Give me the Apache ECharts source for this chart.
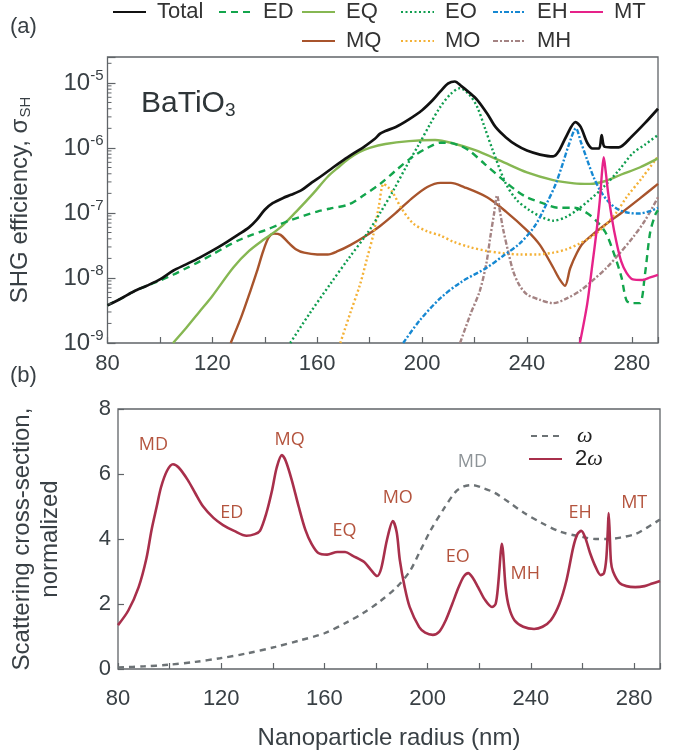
<!DOCTYPE html>
<html>
<head>
<meta charset="utf-8">
<script src="https://cdn.jsdelivr.net/npm/echarts@6/dist/echarts.min.js"></script>
<style>html,body{margin:0;padding:0;background:#fff}#c{width:689px;height:753px}</style>
</head>
<body>
<div id="c"></div>
<script>
// ---------- DATA (panel a: SHG efficiency, [radius nm, sigma_SH]) ----------
const total = [[80,3.8e-9],[85,4.8e-9],[90,6.2e-9],[95,7.6e-9],[100,9.5e-9],[105,1.29e-8],[110,1.62e-8],[115,2.04e-8],[120,2.63e-8],[125,3.47e-8],[130,4.68e-8],[134,6.0e-8],[137,7.9e-8],[140,1.12e-7],[143,1.41e-7],[147,1.7e-7],[150,1.9e-7],[154,2.24e-7],[158,2.95e-7],[162,3.8e-7],[166,5.0e-7],[170,6.5e-7],[174,8.3e-7],[178,1.05e-6],[182,1.38e-6],[184,1.66e-6],[186,1.82e-6],[190,2.1e-6],[195,2.75e-6],[200,3.8e-6],[204,5.4e-6],[207,7.4e-6],[210,9.8e-6],[212.5,1.05e-5],[215,8.9e-6],[218,7.1e-6],[221,5.5e-6],[225,3.3e-6],[228,2.1e-6],[232,1.45e-6],[236,1.1e-6],[240,9.1e-7],[245,7.9e-7],[250,7.4e-7],[252,8.7e-7],[255,1.5e-6],[258.5,2.5e-6],[260.5,2.1e-6],[263,1.2e-6],[265,9.8e-7],[267.5,9.8e-7],[268.5,1.58e-6],[269.5,1.05e-6],[272,1.02e-6],[275,1.02e-6],[280,1.5e-6],[285,2.4e-6],[290,4.0e-6]];
const ED = [[80,3.8e-9],[85,4.8e-9],[90,6.2e-9],[95,7.6e-9],[100,9.1e-9],[105,1.12e-8],[110,1.41e-8],[115,1.78e-8],[120,2.3e-8],[125,3.0e-8],[130,3.8e-8],[135,4.6e-8],[140,5.4e-8],[145,6.5e-8],[150,7.8e-8],[155,9.1e-8],[160,1.05e-7],[165,1.17e-7],[172,1.35e-7],[178,1.9e-7],[184,2.8e-7],[190,4.5e-7],[196,7.1e-7],[202,1.0e-6],[207,1.2e-6],[210,1.2e-6],[214,1.1e-6],[218,9.1e-7],[224,5.6e-7],[231,3.2e-7],[236,2.2e-7],[240,1.74e-7],[246,1.41e-7],[252,1.2e-7],[258,1.2e-7],[262,1.05e-7],[266,7.9e-8],[270,5.0e-8],[273,2.5e-8],[276,1.05e-8],[278,4.5e-9],[280,4.1e-9],[283,4.1e-9],[285,1.12e-8],[287,5.0e-8],[289,9.5e-8],[290,1.1e-7]];
const EQ = [[105,1.0e-9],[110,1.7e-9],[115,3.0e-9],[120,5.3e-9],[128,1.45e-8],[134,2.6e-8],[140,4.0e-8],[146,6.0e-8],[152,1.05e-7],[158.5,2.0e-7],[164,3.6e-7],[168,5.0e-7],[172,6.8e-7],[176,8.6e-7],[180,1.0e-6],[186,1.15e-6],[195,1.27e-6],[205,1.32e-6],[212,1.17e-6],[220,9.3e-7],[230,6.3e-7],[240,4.2e-7],[250,3.2e-7],[258,2.85e-7],[264,2.8e-7],[270,3.1e-7],[276,3.9e-7],[283,5.0e-7],[290,6.9e-7]];
const EO = [[149.7,1.0e-9],[157,2.8e-9],[165,8.1e-9],[172,2.0e-8],[179,4.8e-8],[184,1.0e-7],[189,2.2e-7],[194,5.2e-7],[199,1.17e-6],[203,2.3e-6],[207,4.3e-6],[211,6.8e-6],[214.5,8.3e-6],[218,6.6e-6],[221,4.3e-6],[224,2.0e-6],[227,9.1e-7],[232,2.8e-7],[236,1.6e-7],[241,1.1e-7],[246,8.5e-8],[250,7.6e-8],[255,8.7e-8],[259,1.1e-7],[264,1.6e-7],[269,2.45e-7],[275,4.5e-7],[280.4,8.3e-7],[285,1.12e-6],[290,1.58e-6]];
const EH = [[192.8,1.0e-9],[199,2.2e-9],[207,4.9e-9],[215,8.7e-9],[224.8,1.45e-8],[231,2.2e-8],[237.3,3.4e-8],[243,6.3e-8],[247.6,1.41e-7],[251,2.8e-7],[253.7,5.8e-7],[256,1.12e-6],[258.7,2.0e-6],[260.5,1.26e-6],[263,6.5e-7],[265.5,3.5e-7],[268,2.2e-7],[271,1.5e-7],[275,1.12e-7],[279,1.0e-7],[283,9.8e-8],[287,1.07e-7],[290,1.2e-7]];
const MT = [[260.2,1.0e-9],[263,4.0e-9],[265,1.66e-8],[266.5,5.0e-8],[267.8,1.55e-7],[268.7,4.5e-7],[269.3,7.2e-7],[270,4.5e-7],[271,2.0e-7],[272.5,7.9e-8],[274,3.8e-8],[276,1.78e-8],[278,1.2e-8],[280.4,9.5e-9],[284,9.3e-9],[287,1.02e-8],[290,1.12e-8]];
const MQ = [[127,1.0e-9],[131,2.5e-9],[134.5,6.3e-9],[137,1.26e-8],[139.4,2.6e-8],[141.5,4.2e-8],[143.5,4.8e-8],[146,4.6e-8],[149,3.5e-8],[152,2.75e-8],[155,2.45e-8],[160,2.3e-8],[164,2.3e-8],[168,2.6e-8],[172.6,3.2e-8],[178,4.3e-8],[184,6.3e-8],[190,1.0e-7],[196,1.66e-7],[202,2.5e-7],[207,2.9e-7],[211,2.9e-7],[216,2.5e-7],[224.8,1.74e-7],[232,1.05e-7],[240,5.4e-8],[245,3.2e-8],[250,1.45e-8],[252.5,9.5e-9],[254.5,7.6e-9],[256.5,1.41e-8],[259,2.4e-8],[261.3,3.4e-8],[266,5.0e-8],[270.5,6.9e-8],[276,1.0e-7],[283,1.66e-7],[290,2.8e-7]];
const MO = [[168.8,1.0e-9],[172.5,2.8e-9],[176.4,8.1e-9],[179,2.0e-8],[181.5,4.8e-8],[183.5,1.26e-7],[185.3,2.8e-7],[187,2.5e-7],[189,2.0e-7],[192,1.2e-7],[196.6,6.9e-8],[202,5.2e-8],[207,4.5e-8],[212,3.6e-8],[218,3.0e-8],[224.8,2.6e-8],[231,2.4e-8],[237.3,2.3e-8],[244,2.3e-8],[250,2.45e-8],[255,2.75e-8],[260.2,3.4e-8],[265,4.4e-8],[269,6.0e-8],[274,1.0e-7],[278,1.74e-7],[284,3.5e-7],[290,7.4e-7]];
const MH = [[214.5,1.0e-9],[218.5,2.8e-9],[222,6.3e-9],[224.5,1.66e-8],[226,4.2e-8],[227.5,1.0e-7],[228.6,1.86e-7],[229.8,1.0e-7],[231,5.4e-8],[233,2.4e-8],[234.7,1.29e-8],[237,7.9e-9],[240,5.6e-9],[245,4.6e-9],[250,4.1e-9],[255,4.8e-9],[260.2,6.3e-9],[265,9.1e-9],[270.5,1.45e-8],[275,2.3e-8],[280.4,4.2e-8],[285,7.6e-8],[290,1.74e-7]];

// ---------- DATA (panel b: normalized scattering cross-section) ----------
const omega = [[80,0.05],[90,0.08],[99.4,0.13],[110,0.22],[119.5,0.33],[130,0.48],[141,0.68],[150,0.87],[160,1.1],[169,1.45],[175,1.72],[181,2.05],[188,2.52],[193,3.0],[196.7,3.57],[201,4.25],[205.9,4.89],[210.8,5.45],[214,5.62],[217.3,5.66],[221,5.58],[226,5.42],[232,5.1],[237.4,4.8],[244,4.5],[251.5,4.22],[260.2,4.06],[265,4.0],[270.5,4.0],[275,4.05],[280.4,4.15],[285,4.35],[290,4.6]];
const omega2 = [[80,1.35],[84,1.8],[88,2.52],[91,3.4],[93,4.28],[95,5.0],[96.7,5.6],[99,6.1],[101.3,6.3],[103.5,6.2],[107,5.82],[110,5.4],[113,5.0],[117,4.65],[120.7,4.43],[125,4.25],[129.8,4.1],[133,4.15],[135,4.25],[137.5,4.8],[139.7,5.5],[141.5,6.2],[143.5,6.58],[145,6.4],[147.3,5.82],[150,5.0],[152.6,4.28],[155,3.85],[157.6,3.57],[161,3.52],[165,3.6],[168,3.6],[171,3.48],[175.4,3.29],[178,3.05],[180.4,2.86],[182,3.1],[184.2,3.97],[186.5,4.55],[188,4.2],[189.2,3.35],[191,2.55],[193,1.91],[196.7,1.29],[199,1.12],[202,1.05],[204.5,1.15],[207,1.5],[209.5,2.0],[212,2.52],[214,2.85],[215.7,2.95],[217.5,2.8],[219.5,2.52],[222,2.15],[224.9,1.91],[226.3,2.0],[227.3,2.6],[228.3,3.6],[228.7,3.85],[229.2,3.6],[230.2,2.5],[231.5,1.9],[233.6,1.5],[237,1.3],[241.2,1.23],[244.5,1.3],[247.7,1.5],[251,2.0],[253.8,2.74],[256.4,3.75],[258,4.15],[259.5,4.25],[261,4.05],[262.9,3.57],[265,3.15],[267,2.89],[268.3,2.95],[269.2,3.4],[269.8,4.3],[270.1,4.8],[270.5,4.2],[271,3.3],[271.8,3.0],[274.3,2.65],[277,2.55],[280.4,2.52],[284,2.55],[287,2.63],[290,2.71]];

// resonance annotations [label, radius, value]
const annot2w = [['MD',93.7,6.89],['MQ',146.5,7.05],['ED',124.1,4.8],['EQ',167.8,4.25],['MO',188.4,5.26],['EO',211.6,3.45],['MH',237.8,2.92],['EH',259.1,4.8],['MT',280,5.11]];
const annotW = [['MD',217.3,6.37]];

const xTicks = [80,120,160,200,240,280];
const yTicksB = [0,2,4,6,8];
const logDecades = [-9,-8,-7,-6,-5];
const logMinorMult = [2,3,4,5,6,7,8,9];

// ---------- CHART ----------
const FONT = 'Liberation Sans, Arial, sans-serif';
const TXT = '#394045';
const AX = '#606468';
const chart = echarts.init(document.getElementById('c'), null, {renderer:'canvas'});

function lineSeries(name, data, color, type, width, z) {
  return {name, type:'line', data, xAxisIndex:0, yAxisIndex:0, symbol:'none', smooth:0.3,
    lineStyle:{color, width, type}, itemStyle:{color}, z:z||2, clip:true};
}
function legendItem(name, left, top, extra) {
  return Object.assign({data:[name], left, top, itemWidth:33, itemHeight:14, padding:0, itemGap:0,
    itemStyle:{opacity:0},
    textStyle:{fontSize:22, fontFamily:FONT, color:'#333', padding:[0,0,0,6]}, selectedMode:false}, extra||{});
}
function annot(list, color) {
  return {symbol:'circle', symbolSize:0, silent:true, animation:false,
    label:{show:true, position:'inside', formatter:'{b}', fontFamily:'Open Sans', fontSize:18, color},
    data:list.map(a => ({name:a[0], coord:[a[1], a[2]]}))};
}

const option = {
  animation:false,
  backgroundColor:'#fff',
  grid:[
    {left:107, top:57, right:31, bottom:410, show:true, borderColor:AX, borderWidth:1.3, backgroundColor:'transparent'},
    {left:104, top:409, right:29, bottom:84, show:true, borderColor:AX, borderWidth:1.3, backgroundColor:'transparent'}
  ],
  legend:[
    legendItem('Total',112,1), legendItem('ED',218,1), legendItem('EQ',301,1), legendItem('EO',400,1),
    legendItem('EH',492,1), legendItem('MT',569,1),
    legendItem('MQ',301,30), legendItem('MO',400,30), legendItem('MH',492,30),
    legendItem('ω',530,425,{formatter:'{i|ω}', textStyle:{fontSize:22, color:'#222', padding:[0,0,0,8], rich:{i:{fontSize:22, fontStyle:'italic', fontFamily:'Liberation Serif', color:'#222'}}}}),
    legendItem('2ω',528,448,{formatter:'2{i|ω}', textStyle:{fontSize:22, fontFamily:FONT, color:'#222', padding:[0,0,0,8], rich:{i:{fontSize:22, fontStyle:'italic', fontFamily:'Liberation Serif', color:'#222'}}}})
  ],
  xAxis:[
    {gridIndex:0, type:'value', min:80, max:290, interval:20,
     axisLine:{show:false}, splitLine:{show:false},
     axisTick:{show:true, inside:true, length:6, lineStyle:{color:AX, width:1.2}},
     axisLabel:{fontSize:22, fontFamily:FONT, color:TXT, margin:10,
       formatter:v => xTicks.indexOf(v) >= 0 ? String(v) : ''}},
    {gridIndex:1, type:'value', min:80, max:290, interval:20,
     name:'Nanoparticle radius (nm)', nameLocation:'middle', nameGap:57,
     nameTextStyle:{fontSize:24, fontFamily:FONT, color:TXT},
     axisLine:{show:false}, splitLine:{show:false},
     axisTick:{show:true, inside:true, length:6, lineStyle:{color:AX, width:1.2}},
     axisLabel:{fontSize:22, fontFamily:FONT, color:TXT, margin:19,
       formatter:v => xTicks.indexOf(v) >= 0 ? String(v) : ''}}
  ],
  yAxis:[
    {gridIndex:0, type:'log', logBase:10, min:1e-9, max:2.5e-5,
     name:'SHG efficiency, σ{sub|SH}', nameLocation:'middle', nameGap:74,
     nameTextStyle:{fontSize:24, fontFamily:FONT, color:TXT, rich:{sub:{fontSize:15, fontFamily:FONT, color:TXT, verticalAlign:'bottom', padding:[12,0,0,1]}}},
     axisLine:{show:false}, splitLine:{show:false},
     axisTick:{show:true, inside:true, length:8, lineStyle:{color:AX, width:1.2}},
     axisLabel:{fontFamily:FONT, color:TXT, margin:4,
       formatter:v => { const e = Math.log10(v); const r = Math.round(e);
         return Math.abs(e - r) < 1e-6 ? '{b|10}{s|' + r + '}' : ''; },
       rich:{b:{fontSize:24, fontFamily:FONT, color:TXT}, s:{fontSize:15, fontFamily:FONT, color:TXT, verticalAlign:'top', padding:[0,0,14,0]}}}},
    {gridIndex:1, type:'value', min:0, max:8, interval:2,
     name:'Scattering cross-section,\nnormalized', nameLocation:'middle', nameGap:54,
     nameTextStyle:{fontSize:24, fontFamily:FONT, color:TXT, lineHeight:28, align:'center'},
     axisLine:{show:false}, splitLine:{show:false},
     axisTick:{show:true, inside:true, length:6, lineStyle:{color:AX, width:1.2}},
     axisLabel:{fontSize:22, fontFamily:FONT, color:TXT, margin:7,
       formatter:v => yTicksB.indexOf(v) >= 0 ? String(v) : ''}}
  ],
  graphic:[
    {type:'text', left:10, top:16, style:{text:'(a)', fontSize:22, fontFamily:FONT, fill:TXT}},
    {type:'text', left:10, top:365, style:{text:'(b)', fontSize:22, fontFamily:FONT, fill:TXT}},
    {type:'text', left:141, top:89, style:{text:'BaTiO{sub|3}', fontSize:30, fontFamily:FONT, fill:'#2e3538',
      rich:{sub:{fontSize:19, fontFamily:FONT, fill:'#2e3538', verticalAlign:'bottom', padding:[14,0,0,0]}}}}
  ],
  series:[
    lineSeries('Total', total, '#111111', 'solid', 2.7, 10),
    lineSeries('ED', ED, '#13a54c', [7,5], 2.4, 5),
    lineSeries('EQ', EQ, '#86b752', 'solid', 2.4, 4),
    lineSeries('EO', EO, '#0f9d4f', [2,2.5], 2.4, 6),
    lineSeries('EH', EH, '#1688d2', [5,2,2,2], 2.4, 7),
    lineSeries('MT', MT, '#e62289', 'solid', 2.4, 8),
    lineSeries('MQ', MQ, '#a8542c', 'solid', 2.4, 3),
    lineSeries('MO', MO, '#f4b136', [2,2.5], 2.4, 3),
    lineSeries('MH', MH, '#a48383', [5,2,2,2], 2.4, 3),
    {name:'ω', type:'line', xAxisIndex:1, yAxisIndex:1, data:omega, symbol:'none', smooth:0.3,
     lineStyle:{color:'#6c7275', width:2.4, type:[6,5]}, itemStyle:{color:'#6c7275'},
     markPoint:annot(annotW, '#8d9397')},
    {name:'2ω', type:'line', xAxisIndex:1, yAxisIndex:1, data:omega2, symbol:'none', smooth:0.3,
     lineStyle:{color:'#a82f4b', width:2.6}, itemStyle:{color:'#a82f4b'}, z:5,
     markPoint:annot(annot2w, '#b4543e')}
  ]
};
chart.setOption(option);

// minor log ticks on the left edge of panel (a), placed through the axis scale
const gridRect = chart.getModel().getComponent('grid', 0).coordinateSystem.getRect();
const minorTicks = [];
logDecades.forEach(d => logMinorMult.forEach(m => {
  const v = m * Math.pow(10, d);
  if (v > 2.5e-5) return;
  const y = chart.convertToPixel({yAxisIndex:0}, v);
  minorTicks.push({type:'line', silent:true, z:20,
    shape:{x1:gridRect.x, y1:y, x2:gridRect.x + 4, y2:y}, style:{stroke:AX, lineWidth:1}});
}));
chart.setOption({graphic: option.graphic.concat(minorTicks)});
</script>
</body>
</html>
